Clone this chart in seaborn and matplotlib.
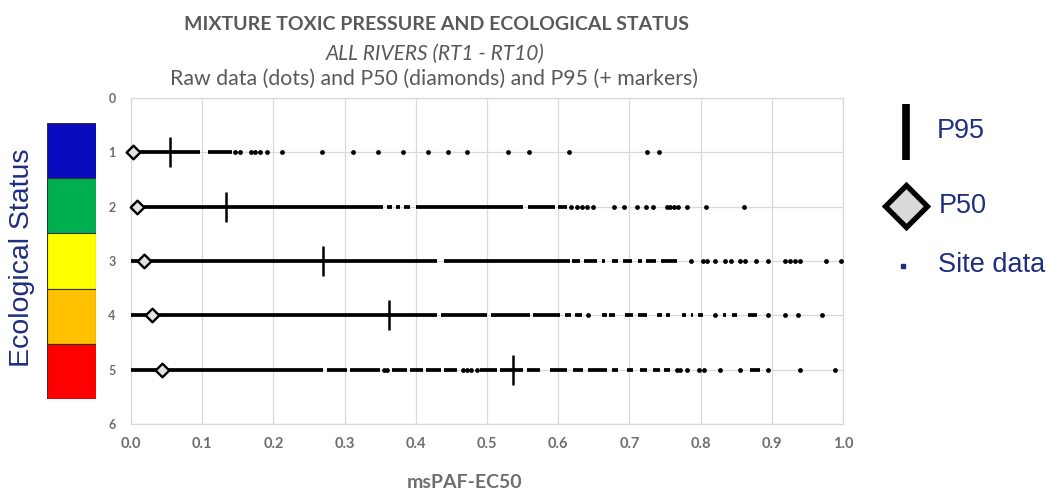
import matplotlib
matplotlib.use("Agg")
import matplotlib.pyplot as plt
import seaborn as sns
import pandas as pd
import numpy as np

# ---------------- data ----------------
statuses = [1, 2, 3, 4, 5]
status_colors = ["#0A0ABE", "#00B050", "#FFFF00", "#FFC000", "#FF0000"]
p50 = [0.003, 0.008, 0.018, 0.029, 0.044]
p95 = [0.055, 0.133, 0.270, 0.362, 0.536]

# dense stretches of overlapping site dots (start, end)
runs_s1 = [(0.0, 0.097), (0.108, 0.142)]
runs_s2 = [(0.0, 0.354), (0.360, 0.366), (0.372, 0.378), (0.384, 0.392), (0.400, 0.551),
           (0.558, 0.595), (0.600, 0.612)]
runs_s3 = [(0.0, 0.430), (0.440, 0.617), (0.620, 0.631), (0.636, 0.654), (0.661, 0.666),
           (0.675, 0.684), (0.691, 0.704), (0.712, 0.718), (0.724, 0.738), (0.745, 0.767)]
runs_s4 = [(0.0, 0.430), (0.435, 0.500), (0.505, 0.560), (0.565, 0.603), (0.610, 0.618),
           (0.624, 0.633), (0.661, 0.668), (0.672, 0.680), (0.694, 0.705), (0.712, 0.725),
           (0.739, 0.746), (0.752, 0.757), (0.774, 0.780), (0.786, 0.790), (0.796, 0.803),
           (0.831, 0.836), (0.844, 0.851), (0.867, 0.879)]
runs_s5 = [(0.0, 0.270), (0.275, 0.303), (0.307, 0.350), (0.366, 0.388), (0.392, 0.410),
           (0.415, 0.435), (0.440, 0.458), (0.490, 0.514), (0.518, 0.551), (0.556, 0.574),
           (0.588, 0.612), (0.621, 0.635), (0.642, 0.668), (0.676, 0.684), (0.696, 0.705),
           (0.715, 0.725), (0.733, 0.743), (0.748, 0.757), (0.869, 0.883)]

# isolated site values
points_s1 = [0.146, 0.153, 0.168, 0.174, 0.181, 0.191, 0.212, 0.268, 0.312, 0.347, 0.382,
             0.417, 0.445, 0.472, 0.530, 0.559, 0.615, 0.725, 0.742]
points_s2 = [0.618, 0.626, 0.633, 0.640, 0.649, 0.678, 0.692, 0.711, 0.723, 0.733, 0.753,
             0.757, 0.763, 0.768, 0.781, 0.808, 0.861]
points_s3 = [0.787, 0.804, 0.809, 0.820, 0.834, 0.843, 0.855, 0.862, 0.878, 0.895, 0.919,
             0.926, 0.933, 0.940, 0.976, 0.997]
points_s4 = [0.642, 0.820, 0.895, 0.918, 0.937, 0.970]
points_s5 = [0.355, 0.360, 0.466, 0.472, 0.478, 0.486, 0.767, 0.771, 0.781, 0.798, 0.805,
             0.827, 0.855, 0.895, 0.940, 0.989]

x_ticks = [0.0, 0.1, 0.2, 0.3, 0.4, 0.5, 0.6, 0.7, 0.8, 0.9, 1.0]
y_ticks = [0, 1, 2, 3, 4, 5, 6]

title1 = "MIXTURE TOXIC PRESSURE AND ECOLOGICAL STATUS"
title2 = "ALL RIVERS (RT1 - RT10)"
title3 = "Raw data (dots) and P50 (diamonds) and P95 (+ markers)"
x_label = "msPAF-EC50"
y_label = "Ecological Status"
legend_labels = ["P95", "P50", "Site data"]

# ---------------- build frames ----------------
all_runs = [runs_s1, runs_s2, runs_s3, runs_s4, runs_s5]
all_points = [points_s1, points_s2, points_s3, points_s4, points_s5]
runs_df = pd.DataFrame([(s, a, b) for s, rr in zip(statuses, all_runs) for a, b in rr],
                       columns=["status", "start", "end"])
pts_df = pd.DataFrame([(s, v) for s, pp in zip(statuses, all_points) for v in pp],
                      columns=["status", "value"])
stat_df = pd.DataFrame({"status": statuses, "p50": p50, "p95": p95})

# ---------------- figure ----------------
sns.set_theme(style="white")
plt.rcParams["font.family"] = ["Lato", "DejaVu Sans"]

W, H = 1052, 491
fig = plt.figure(figsize=(W / 100, H / 100), dpi=100)
fig.patch.set_facecolor("white")

L, R, T, B = 131, 843, 98, 424
ax = fig.add_axes([L / W, 1 - B / H, (R - L) / W, (B - T) / H])

grid_c = "#D9D9D9"
ax.set_xlim(0, 1.0)
ax.set_ylim(6, 0)
ax.set_xticks(x_ticks)
ax.set_yticks(y_ticks)
ax.set_xticklabels([f"{v:.1f}" for v in x_ticks])
ax.set_yticklabels([str(v) for v in y_ticks])
ax.grid(True, color=grid_c, linewidth=0.9)
ax.set_axisbelow(True)
for sp in ax.spines.values():
    sp.set_color(grid_c)
    sp.set_linewidth(0.9)
ax.tick_params(axis="both", length=0, colors="#6E6E6E")
ax.tick_params(axis="y", pad=11, labelsize=9)
ax.tick_params(axis="x", pad=9, labelsize=10.5)
for lab in ax.get_xticklabels() + ax.get_yticklabels():
    lab.set_fontweight("bold")

# dense runs of sites
ax.hlines(runs_df["status"], runs_df["start"], runs_df["end"], color="black",
          linewidth=2.7, capstyle="butt", zorder=3)
# isolated sites
sns.scatterplot(data=pts_df, x="value", y="status", ax=ax, color="black", marker="o",
                s=12, linewidth=0, zorder=4, legend=False, clip_on=False)
# P95 markers
sns.scatterplot(data=stat_df, x="p95", y="status", ax=ax, color="black", marker="|",
                s=440, linewidth=1.8, zorder=5, legend=False)
# P50 diamonds
sns.scatterplot(data=stat_df, x="p50", y="status", ax=ax, marker="D", s=48,
                facecolor="#E4E4E4", edgecolor="black", linewidth=1.7, zorder=6,
                legend=False, clip_on=False)
ax.set_xlabel("")
ax.set_ylabel("")

# x label
fig.text(465 / W, 1 - 482 / H, x_label, ha="center", va="center",
         fontsize=14, fontweight="bold", color="#6E6E6E")

# titles
tc = "#595959"
fig.text(437 / W, 1 - 25 / H, title1, ha="center", va="center", fontsize=14,
         fontweight="bold", color=tc)
fig.text(435 / W, 1 - 54 / H, title2, ha="center", va="center", fontsize=15,
         fontstyle="italic", color=tc)
fig.text(434 / W, 1 - 79 / H, title3, ha="center", va="center", fontsize=15.3, color=tc)

# ecological status colour bar
axc = fig.add_axes([47 / W, 1 - 399 / H, 49 / W, (399 - 123) / H])
axc.barh(statuses, [1] * len(statuses), height=1.0, left=0, color=status_colors,
         edgecolor="#333333", linewidth=0.8)
axc.set_xlim(0, 1)
axc.set_ylim(5.5, 0.5)
axc.axis("off")

navy = "#1F2E7E"
fig.text(22 / W, 1 - 258 / H, y_label, rotation=90, ha="center", va="center",
         fontsize=20.5, color=navy, family=["Liberation Sans", "DejaVu Sans"])

# legend (drawn in a pixel-space overlay)
axl = fig.add_axes([0, 0, 1, 1])
axl.set_xlim(0, W)
axl.set_ylim(H, 0)
axl.axis("off")
axl.plot([906, 906], [104, 160], color="black", linewidth=5.5, solid_capstyle="butt")
axl.plot([906], [206], marker="D", markersize=21, markerfacecolor="#D9D9D9",
         markeredgecolor="black", markeredgewidth=3.8)
axl.plot([903], [266], marker="s", markersize=3, color=navy)
lf = dict(fontsize=19.5, color=navy, va="center", ha="left",
          family=["Liberation Sans", "DejaVu Sans"])
axl.text(937, 131, legend_labels[0], **lf)
axl.text(939, 206, legend_labels[1], **lf)
axl.text(938, 265, legend_labels[2], **lf)

fig.savefig("out.png", dpi=100)
